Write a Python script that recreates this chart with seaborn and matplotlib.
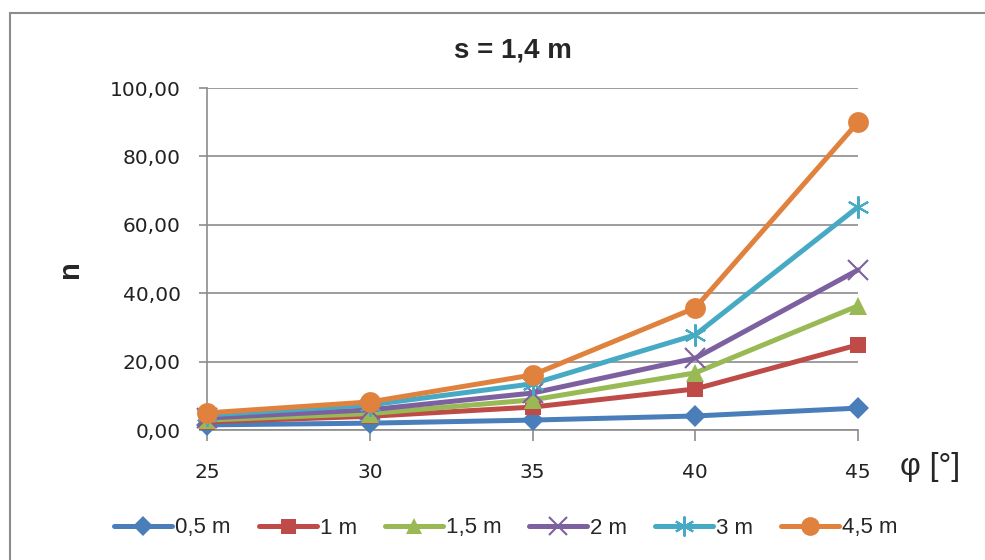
import matplotlib
matplotlib.use("Agg")
import matplotlib.pyplot as plt
from matplotlib.patches import Rectangle
from matplotlib.ticker import FuncFormatter
import seaborn as sns
import pandas as pd

# angle of internal friction [deg]
phi = [25, 30, 35, 40, 45]

# n for each spacing value
n_05 = [1.5, 2.0, 2.9, 4.1, 6.4]
n_10 = [2.4, 4.0, 6.7, 12.0, 24.9]
n_15 = [2.9, 4.8, 8.8, 16.7, 36.3]
n_20 = [3.5, 5.9, 10.8, 21.0, 46.8]
n_30 = [4.4, 7.3, 13.5, 27.8, 65.2]
n_45 = [5.0, 8.2, 16.1, 35.7, 90.0]

series_labels = ["0,5 m", "1 m", "1,5 m", "2 m", "3 m", "4,5 m"]
series_values = [n_05, n_10, n_15, n_20, n_30, n_45]

colors = ["#4A7EBB", "#BE4B48", "#98B954", "#7D60A0", "#46AAC5", "#E0823D"]
markers = ["D", "s", "^", "x", (6, 2, 0), "o"]
msizes = [11, 12, 13, 14, 16, 15]

rows = []
for lab, vals in zip(series_labels, series_values):
    for p, v in zip(phi, vals):
        rows.append({"phi": p, "n": v, "series": lab})
df = pd.DataFrame(rows)

sns.set_theme(style="white")
plt.rcParams["font.family"] = ["Liberation Sans", "DejaVu Sans"]

fig = plt.figure(figsize=(9.85, 5.6), dpi=100)
W, H = 985, 560
ax = fig.add_axes([207 / W, 1 - 430 / H, (858 - 207) / W, (430 - 88) / H])

# outer chart frame
fig.patches.append(Rectangle((10 / W, -0.1), 1.2, 1 - 13 / H + 0.1,
                             transform=fig.transFigure, fill=False,
                             edgecolor="#8c8c8c", linewidth=1.5))

for lab, col, mk, ms in zip(series_labels, colors, markers, msizes):
    sub = df[df["series"] == lab]
    sns.lineplot(data=sub, x="phi", y="n", ax=ax, color=col, linewidth=3.6,
                 marker=mk, markersize=ms, markeredgecolor=col,
                 markeredgewidth=1.5 if mk in ("x", (6, 2, 0)) else 0,
                 label=lab, clip_on=False, zorder=3)

ax.set_xlim(25, 45)
ax.set_ylim(0, 100)
ax.set_xticks(phi)
ax.set_yticks([0, 20, 40, 60, 80, 100])
ax.yaxis.set_major_formatter(FuncFormatter(lambda v, _: f"{v:.2f}".replace(".", ",")))
ax.grid(axis="y", color="#8c8c8c", linewidth=1.2)
ax.grid(axis="x", visible=False)
for s in ["top", "right"]:
    ax.spines[s].set_visible(False)
for s in ["left", "bottom"]:
    ax.spines[s].set_color("#8c8c8c")
    ax.spines[s].set_linewidth(1.2)
for lbl in ax.get_xticklabels() + ax.get_yticklabels():
    lbl.set_family("DejaVu Sans")
ax.tick_params(axis="x", direction="out", length=8, width=1.2, color="#8c8c8c",
               pad=16, labelsize=14.5, labelcolor="#222222", bottom=True)
ax.tick_params(axis="y", direction="out", length=6, width=1.2, color="#8c8c8c",
               pad=13, labelsize=14.5, labelcolor="#222222", left=True)
ax.set_xlabel("")
ax.set_ylabel("n", fontsize=21, fontweight="bold")
ax.yaxis.set_label_coords((84 - 207) / 651, 0.47)

fig.text(513 / W, 1 - 50 / H, "s = 1,4 m", ha="center", va="center",
         fontsize=20, fontweight="bold")
fig.text(930 / W, 1 - 467 / H, "φ [°]", ha="center", va="center",
         fontsize=23)

ax.legend(loc="center", bbox_to_anchor=(506 / W, 1 - 528 / H),
          bbox_transform=fig.transFigure, ncol=6, frameon=False,
          fontsize=16, handlelength=2.6, columnspacing=1.25, handletextpad=0.15,
          markerscale=0.9)

fig.savefig("out.png", dpi=100)
